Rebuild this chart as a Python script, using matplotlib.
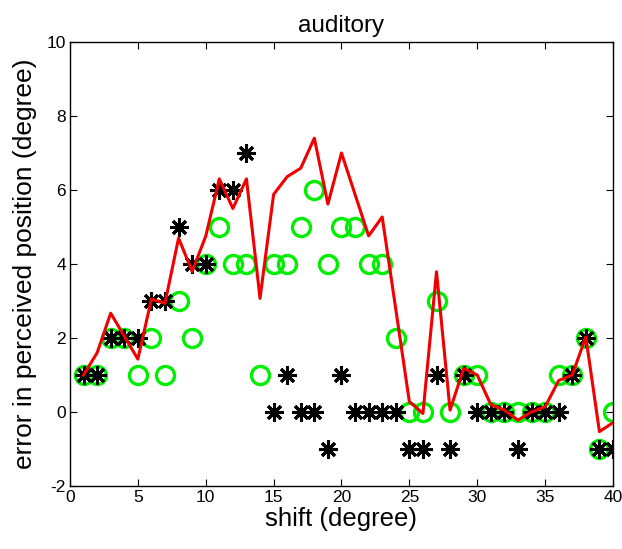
import numpy as np
import matplotlib
matplotlib.use('Agg')
import matplotlib.pyplot as plt

plt.rcParams['font.family'] = ['Liberation Sans', 'DejaVu Sans']
plt.rcParams['axes.unicode_minus'] = False

shift = list(range(1, 41))

# single-trial errors, two response types
err_star = [1, 1, 2, 2, 2, 3, 3, 5, 4, 4,
            6, 6, 7, np.nan, 0, 1, 0, 0, -1, 1,
            0, 0, 0, 0, -1, -1, 1, -1, 1, 0,
            0, 0, -1, 0, 0, 0, 1, 2, -1, -1]
err_circ = [1, 1, 2, 2, 1, 2, 1, 3, 2, 4,
            5, 4, 4, 1, 4, 4, 5, 6, 4, 5,
            5, 4, 4, 2, 0, 0, 3, 0, 1, 1,
            0, 0, 0, 0, 0, 1, 1, 2, -1, 0]
# model prediction
err_model = [1.0, 1.6, 2.67, 2.05, 1.43, 3.05, 2.94, 4.7, 3.8, 4.75,
             6.3, 5.5, 6.3, 3.07, 5.88, 6.36, 6.59, 7.4, 5.62, 7.0,
             5.88, 4.76, 5.27, 2.78, 0.28, -0.04, 3.79, 0.05, 1.18, 1.0,
             0.2, 0.05, -0.22, 0.0, 0.14, 0.85, 1.0, 2.03, -0.53, -0.29]

fig = plt.figure(figsize=(6.22, 5.49), dpi=100)
ax = fig.add_axes([0.1125, 0.1148, 0.873, 0.8087])

ax.plot(shift, err_circ, linestyle='none', marker='o', markersize=13,
        markerfacecolor='none', markeredgecolor='#00ee00', markeredgewidth=2.4, zorder=2)
ax.plot(shift, err_star, linestyle='none', marker=(8, 2, 0), markersize=13,
        markeredgecolor='black', markeredgewidth=2.2, color='black', zorder=3)
ax.plot(shift, err_model, color='#f00000', linewidth=2.2, zorder=4)

ax.set_xlim(0, 40)
ax.set_ylim(-2, 10)
ax.set_xticks(range(0, 41, 5))
ax.set_yticks(range(-2, 11, 2))
ax.tick_params(direction='in', top=True, right=True, labelsize=12.5, length=5, pad=3)
for s in ax.spines.values():
    s.set_linewidth(1.0)

ax.set_title('auditory', fontsize=17.5, pad=7)
ax.set_xlabel('shift (degree)', fontsize=18.5, labelpad=1)
ax.set_ylabel('error in perceived position (degree)', fontsize=19, labelpad=7)

fig.savefig('out.png', dpi=100)
